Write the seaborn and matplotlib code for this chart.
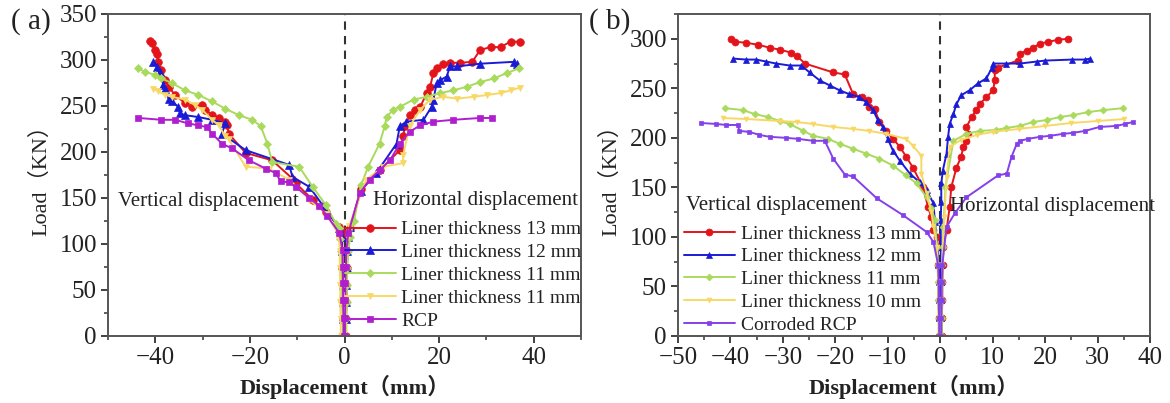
import matplotlib
matplotlib.use("Agg")
import matplotlib.pyplot as plt
from matplotlib.ticker import MultipleLocator, AutoMinorLocator
import seaborn as sns

# ---------------- data: panel (a) ----------------
# vertical displacement (negative side), load in kN
a13_vx = [-0.3, -0.3, -0.4, -0.4, -0.5, -0.5, -0.4, -1.1, -3.9, -6.7, -10.3, -11.0, -15.3, -20.9, -24.5, -24.8,
          -25.2, -26.6, -28.0, -29.4, -30.1, -32.3, -33.7, -35.8, -37.2, -37.9, -38.7, -39.4, -39.7, -40.1, -40.8, -41.1]
a13_vy = [0, 18, 37, 55, 74, 92, 112, 119, 135, 148, 166, 171, 191, 199, 220, 229,
          233, 237, 240, 246, 251, 249, 253, 262, 271, 278, 289, 298, 307, 311, 318, 321]
a12_vx = [-0.3, -0.3, -0.3, -0.4, -0.4, -0.5, -0.6, -1.1, -4.6, -7.4, -11.0, -11.7, -20.9, -25.9, -25.2, -28.0,
          -30.9, -33.7, -34.8, -35.1, -36.5, -37.2, -37.9, -38.3, -39.0, -39.6, -40.4]
a12_vy = [0, 18, 37, 55, 74, 92, 108, 117, 142, 162, 173, 186, 202, 220, 231, 235,
          238, 240, 242, 249, 255, 258, 269, 273, 287, 292, 298]
a11g_vx = [-0.4, -0.4, -0.5, -0.5, -0.6, -0.7, -0.9, -1.1, -1.8, -3.9, -6.7, -9.6, -15.3, -16.3, -17.7, -19.5,
           -22.3, -25.2, -28.0, -30.9, -33.7, -36.5, -38.7, -40.1, -42.2, -43.6]
a11g_vy = [0, 18, 37, 55, 74, 92, 105, 117, 122, 142, 162, 184, 189, 209, 228, 235,
           240, 247, 255, 262, 267, 275, 280, 284, 287, 291]
a11y_vx = [-0.8, -0.8, -0.9, -0.9, -1.0, -1.0, -1.1, -1.4, -3.9, -7.4, -11.7, -16.0, -20.9, -24.5, -25.2, -26.6,
           -28.0, -30.1, -31.6, -33.7, -36.5, -37.9, -39.4, -40.4]
a11y_vy = [0, 18, 37, 55, 74, 92, 104, 112, 133, 148, 170, 182, 184, 214, 217, 229,
           235, 246, 251, 257, 260, 262, 266, 269]
arcp_vx = [-0.2, -0.2, -0.3, -0.3, -0.4, -0.4, -1.1, -3.6, -5.3, -7.4, -10.3, -11.7, -13.5, -14.5, -16.7, -20.2,
           -23.8, -25.9, -28.0, -29.1, -30.9, -33.0, -35.8, -38.7, -43.6]
arcp_vy = [0, 20, 39, 58, 75, 93, 112, 130, 141, 150, 162, 167, 168, 177, 182, 191,
           204, 209, 220, 227, 229, 231, 235, 235, 237]

# horizontal displacement (positive side)
a13_hx = [0.3, 0.3, 0.4, 0.4, 0.5, 0.6, 0.8, 1.1, 3.5, 7.4, 11.7, 12.4, 12.8, 13.8, 14.9, 16.0, 17.4, 18.1,
          18.8, 19.5, 20.9, 22.3, 24.5, 27.0, 28.7, 30.9, 33.0, 35.1, 37.2]
a13_hy = [0, 18, 37, 55, 74, 92, 108, 117, 160, 180, 202, 217, 228, 240, 246, 249, 264, 271,
          286, 291, 296, 297, 297, 298, 311, 314, 314, 320, 320]
a12_hx = [0.3, 0.3, 0.4, 0.4, 0.5, 0.6, 0.8, 1.2, 3.5, 6.7, 11.0, 11.7, 13.1, 16.7, 18.4, 18.8, 19.5, 20.2,
          21.6, 22.3, 23.8, 28.7, 35.8, 36.5]
a12_hy = [0, 18, 37, 55, 74, 92, 108, 118, 158, 177, 209, 228, 233, 235, 249, 257, 275, 278,
          282, 293, 293, 296, 298, 296]
a11g_hx = [0.4, 0.4, 0.5, 0.5, 0.6, 0.8, 1.2, 2.0, 3.5, 5.0, 7.4, 8.5, 8.9, 10.3, 11.7, 14.6, 17.4, 20.2,
           23.0, 25.9, 28.7, 31.6, 34.4, 36.9]
a11g_hy = [0, 18, 37, 55, 74, 92, 108, 125, 164, 184, 209, 228, 238, 246, 249, 257, 260, 264,
           267, 271, 276, 280, 286, 291]
a11y_hx = [0.2, 0.2, 0.3, 0.3, 0.4, 0.5, 0.7, 1.0, 4.6, 8.2, 12.4, 12.4, 13.8, 16.0, 18.1, 20.9, 23.8, 27.3,
           30.2, 33.0, 35.1, 37.2]
a11y_hy = [0, 18, 37, 55, 74, 92, 108, 120, 170, 184, 188, 197, 228, 246, 257, 260, 258, 260,
           262, 264, 267, 270]
arcp_hx = [0.1, 0.1, 0.2, 0.2, 0.3, 0.4, 0.8, 3.2, 5.3, 7.4, 9.6, 11.7, 13.8, 16.0, 18.8, 23.0, 28.7, 31.2]
arcp_hy = [0, 20, 39, 58, 75, 93, 112, 155, 170, 180, 191, 209, 222, 229, 233, 235, 237, 237]

# ---------------- data: panel (b) ----------------
b13_vx = [-0.2, -0.2, -0.3, -0.3, -0.4, -0.5, -0.6, -1.3, -1.7, -2.3, -3.3, -5.2, -6.5, -7.7, -9.0, -10.3,
          -11.6, -12.5, -13.5, -13.8, -15.0, -16.6, -18.2, -20.4, -25.8, -27.4, -28.4, -30.6, -32.5, -34.8,
          -37.0, -39.2, -39.8]
b13_vy = [0, 18, 36, 54, 72, 90, 100, 107, 120, 130, 150, 170, 181, 191, 199, 207,
          216, 229, 231, 238, 241, 244, 264, 266, 275, 283, 286, 289, 291, 294, 296, 297, 300]
b12_vx = [-0.2, -0.2, -0.3, -0.3, -0.4, -0.5, -1.0, -1.3, -2.6, -3.9, -5.8, -7.7, -9.0, -10.0, -10.9, -11.9,
          -12.8, -14.1, -15.4, -17.3, -19.2, -21.1, -23.0, -24.9, -26.5, -28.7, -31.3, -33.2, -35.1, -37.0, -39.5]
b12_vy = [0, 18, 36, 54, 72, 90, 115, 134, 147, 155, 164, 177, 187, 199, 211, 218,
          228, 236, 241, 244, 248, 253, 258, 266, 273, 273, 275, 277, 279, 279, 280]
b11_vx = [-0.3, -0.3, -0.4, -0.4, -0.5, -0.6, -1.0, -1.7, -2.6, -4.5, -6.5, -9.0, -11.6, -14.1, -16.6, -19.2,
          -21.4, -24.2, -26.1, -28.7, -30.6, -32.8, -35.4, -37.6, -41.1]
b11_vy = [0, 18, 36, 54, 72, 90, 117, 129, 140, 154, 162, 172, 179, 184, 189, 194,
          199, 202, 207, 214, 217, 221, 224, 228, 230]
b10_vx = [-0.3, -0.3, -0.4, -0.4, -0.5, -0.6, -1.3, -1.7, -2.6, -3.6, -3.6, -5.2, -6.5, -10.3, -13.5, -16.6,
          -20.4, -24.2, -27.4, -30.6, -37.0, -41.4]
b10_vy = [0, 18, 36, 54, 72, 90, 111, 125, 144, 164, 182, 192, 199, 204, 207, 209,
          211, 214, 216, 217, 219, 220]
brcp_vx = [-0.2, -0.2, -0.3, -0.3, -0.4, -1.3, -2.6, -7.1, -12.1, -16.6, -18.2, -20.4, -22.0, -24.2, -27.2,
           -29.4, -32.5, -34.5, -36.4, -38.3, -38.6, -40.8, -42.7, -45.6]
brcp_vy = [0, 18, 36, 54, 72, 95, 105, 122, 139, 161, 163, 179, 197, 197, 199,
           200, 201, 203, 206, 207, 213, 213, 214, 215]

b13_hx = [0.3, 0.3, 0.4, 0.4, 0.5, 0.6, 1.2, 1.8, 2.1, 3.1, 4.0, 4.4, 5.0, 5.3, 5.0, 6.0, 6.9, 7.5, 8.8,
          10.1, 10.4, 10.4, 11.0, 14.8, 15.2, 16.5, 17.7, 19.0, 20.6, 22.5, 24.4]
b13_hy = [0, 18, 36, 54, 72, 90, 107, 130, 150, 170, 181, 191, 197, 204, 211, 221, 228, 234, 241,
          248, 258, 268, 271, 278, 285, 288, 291, 295, 297, 299, 300]
b12_hx = [0.1, 0.1, 0.1, 0.1, 0.1, 0.1, 0.1, 0.2, 0.2, 0.5, 1.2, 1.5, 1.8, 2.5, 3.1, 4.0, 5.6, 7.2, 8.8,
          9.8, 10.1, 12.6, 15.2, 18.4, 20.0, 25.1, 27.6, 28.6]
b12_hy = [0, 18, 36, 54, 72, 90, 117, 135, 154, 167, 184, 201, 214, 224, 234, 243, 248, 255, 260,
          270, 275, 275, 275, 277, 278, 279, 279, 280]
b11_hx = [0.3, 0.3, 0.3, 0.4, 0.4, 0.5, 0.6, 1.0, 2.5, 5.0, 7.5, 10.7, 12.6, 15.2, 17.7, 20.3, 22.8, 25.4,
          28.2, 31.1, 34.9]
b11_hy = [0, 18, 36, 54, 72, 90, 110, 150, 197, 204, 207, 208, 210, 212, 216, 218, 221, 223,
          226, 228, 230]
b10_hx = [0.2, 0.2, 0.3, 0.3, 0.4, 0.5, 0.8, 1.2, 1.8, 4.0, 7.0, 10.0, 15.0, 20.0, 25.0, 30.0, 35.0]
b10_hy = [0, 18, 36, 54, 72, 90, 120, 160, 191, 198, 203, 206, 209, 212, 215, 217, 219]
brcp_hx = [0.2, 0.2, 0.3, 0.3, 0.4, 1.2, 2.8, 5.0, 11.0, 12.7, 13.6, 14.6, 15.2, 16.8, 19.0, 20.9, 23.4,
           25.3, 27.6, 30.4, 33.6, 35.2, 36.8]
brcp_hy = [0, 18, 36, 54, 72, 110, 124, 140, 162, 164, 181, 194, 197, 199, 201, 202, 204,
           205, 207, 211, 212, 214, 216]

labels_a = ["Liner thickness 13 mm", "Liner thickness 12 mm", "Liner thickness 11 mm",
            "Liner thickness 11 mm", "RCP"]
labels_b = ["Liner thickness 13 mm", "Liner thickness 12 mm", "Liner thickness 11 mm",
            "Liner thickness 10 mm", "Corroded RCP"]

# ---------------- styling ----------------
sns.set_style("ticks")
plt.rcParams["font.family"] = ["Liberation Serif", "Noto Sans CJK SC"]
plt.rcParams["axes.unicode_minus"] = True

RED, BLUE, GREEN, YELLOW = "#e3151b", "#1b1bd6", "#a9da5c", "#f8d865"
PURPLE_A, PURPLE_B = "#b01fcf", "#8440ea"

fig = plt.figure(figsize=(11.7, 4.03), dpi=100)
ax_a = fig.add_axes([108 / 1170, 67 / 403, 473 / 1170, 322 / 403])
ax_b = fig.add_axes([678 / 1170, 67 / 403, 472 / 1170, 322 / 403])


def draw(ax, vx, vy, hx, hy, color, marker, ms, label):
    kw = dict(color=color, marker=marker, markersize=ms, linewidth=1.4,
              markeredgecolor=color, markeredgewidth=0.5, sort=False,
              estimator=None, ax=ax)
    sns.lineplot(x=vx, y=vy, label=label, **kw)
    sns.lineplot(x=hx, y=hy, **kw)


series_a = [
    (a13_vx, a13_vy, a13_hx, a13_hy, RED, "o", 5.5),
    (a12_vx, a12_vy, a12_hx, a12_hy, BLUE, "^", 5.5),
    (a11g_vx, a11g_vy, a11g_hx, a11g_hy, GREEN, "D", 4.5),
    (a11y_vx, a11y_vy, a11y_hx, a11y_hy, YELLOW, "v", 5),
    (arcp_vx, arcp_vy, arcp_hx, arcp_hy, PURPLE_A, "s", 5),
]
series_b = [
    (b13_vx, b13_vy, b13_hx, b13_hy, RED, "o", 5),
    (b12_vx, b12_vy, b12_hx, b12_hy, BLUE, "^", 4.5),
    (b11_vx, b11_vy, b11_hx, b11_hy, GREEN, "D", 3.5),
    (b10_vx, b10_vy, b10_hx, b10_hy, YELLOW, "v", 3.5),
    (brcp_vx, brcp_vy, brcp_hx, brcp_hy, PURPLE_B, "s", 3.5),
]

for (vx, vy, hx, hy, c, m, ms), lab in zip(series_a, labels_a):
    draw(ax_a, vx, vy, hx, hy, c, m, ms, lab)
for (vx, vy, hx, hy, c, m, ms), lab in zip(series_b, labels_b):
    draw(ax_b, vx, vy, hx, hy, c, m, ms, lab)

text_kw = dict(fontsize=15, color="#222222", va="center", ha="left")
label_font = ["Liberation Serif", "Noto Sans CJK SC"]

for ax, xlim, ylim, xmaj, ymaj in [(ax_a, (-50, 50), (0, 350), 20, 50),
                                   (ax_b, (-50, 40), (0, 325), 10, 50)]:
    ax.axvline(0, color="#333333", linestyle=(0, (4, 3)), linewidth=1.5, zorder=0)
    ax.set_xlim(*xlim)
    ax.set_ylim(*ylim)
    ax.xaxis.set_major_locator(MultipleLocator(xmaj))
    ax.xaxis.set_minor_locator(AutoMinorLocator(2))
    ax.yaxis.set_major_locator(MultipleLocator(ymaj))
    ax.yaxis.set_minor_locator(AutoMinorLocator(2))
    ax.tick_params(which="major", direction="out", length=5, width=1.3,
                   labelsize=18, colors="#333333", labelcolor="#222222", pad=3)
    ax.tick_params(which="minor", direction="out", length=3, width=1.1, colors="#333333")
    for s in ax.spines.values():
        s.set_color("#555555")
        s.set_linewidth(1.4)
    ax.set_xlabel("Displacement（mm）", fontsize=16, fontweight="bold",
                  family=label_font, color="#222222", labelpad=4)
    ax.set_ylabel("Load（KN）", fontsize=16, family=label_font, color="#222222", labelpad=6)
    ax.set_facecolor("white")

# annotations
ax_a.text(-47.9, 146, "Vertical displacement", **text_kw)
ax_a.text(6.0, 147, "Horizontal displacement", **text_kw)
ax_b.text(-48.4, 132, "Vertical displacement", **text_kw)
ax_b.text(1.8, 131, "Horizontal displacement", **text_kw)

leg_kw = dict(frameon=False, fontsize=14, handlelength=2.6, handletextpad=0.3,
              labelspacing=0.27, borderpad=0, borderaxespad=0, numpoints=1,
              labelcolor="#222222")
ax_a.legend(loc="upper left", bbox_to_anchor=(0.501, 0.358), **leg_kw)
ax_b.legend(loc="upper left", bbox_to_anchor=(0.013, 0.345), **leg_kw)

# panel letters
fig.text(11 / 1170, 1 - 22 / 403, "( a)", fontsize=21, family="Liberation Serif",
         va="center", ha="left", color="#222222")
fig.text(589 / 1170, 1 - 22 / 403, "( b)", fontsize=21, family="Liberation Serif",
         va="center", ha="left", color="#222222")

fig.savefig("out.png", dpi=100, facecolor="white")
